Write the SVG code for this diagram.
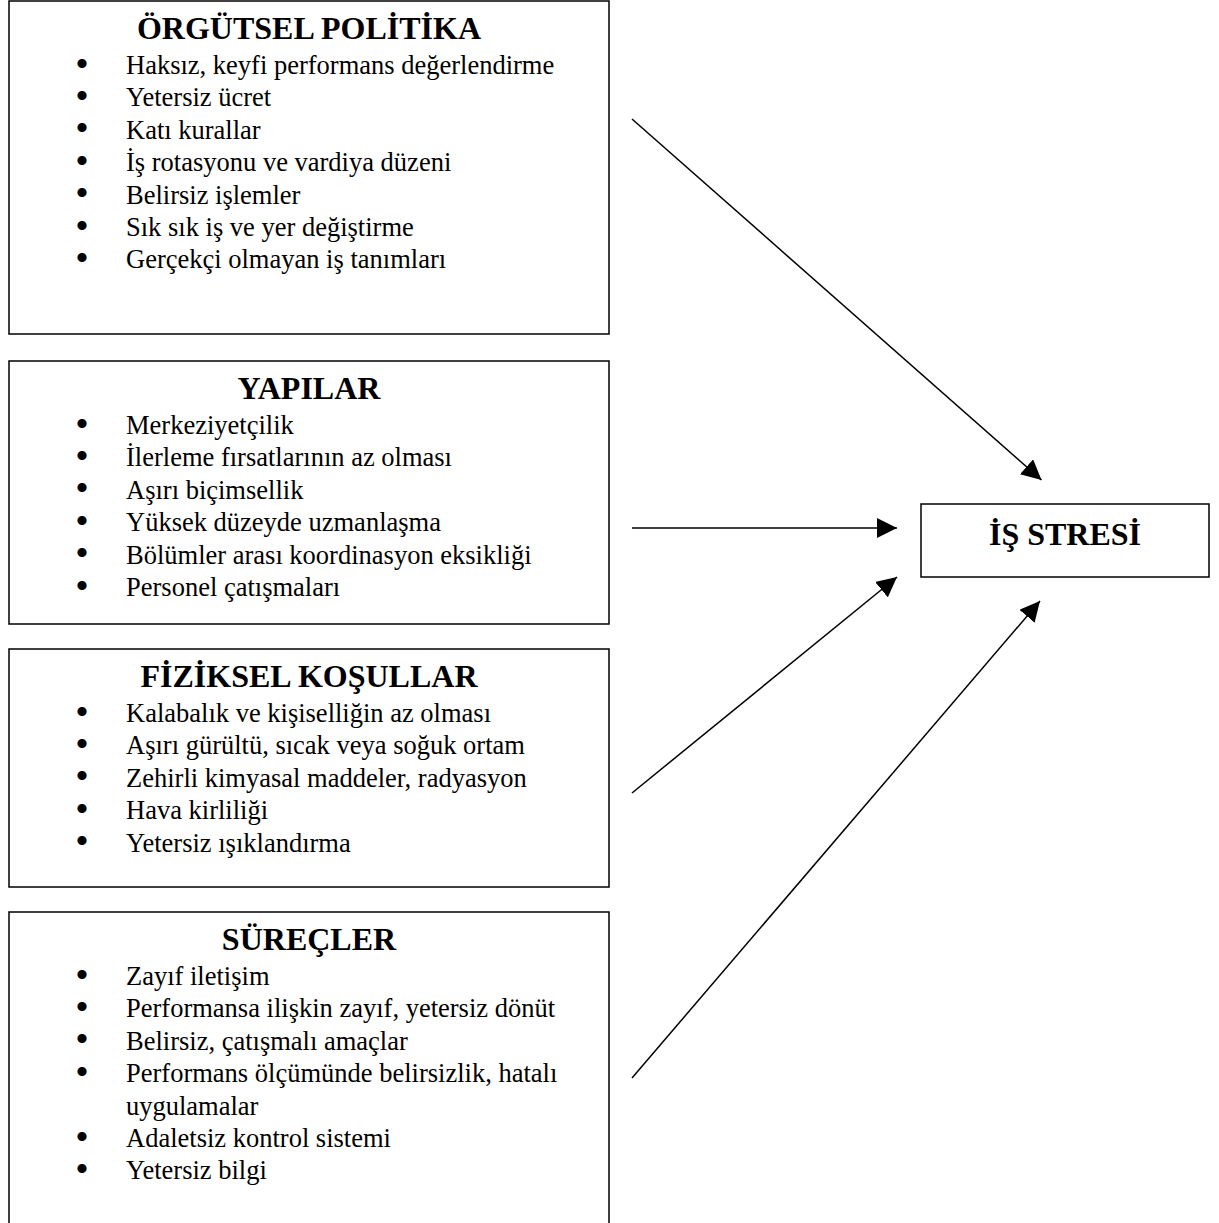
<svg xmlns="http://www.w3.org/2000/svg" width="1219" height="1223" viewBox="0 0 1219 1223">
<style>
.box{fill:#fff;stroke:#000;stroke-width:1.5}
.title{font-family:"Liberation Serif","Times New Roman",serif;font-weight:bold;font-size:32px;text-anchor:middle;fill:#000}
.item{font-family:"Liberation Serif","Times New Roman",serif;font-size:26.5px;fill:#000}
.bul{font-family:"Liberation Serif","Times New Roman",serif;font-size:30px;text-anchor:middle;fill:#000;stroke:#000;stroke-width:2}
.conn{stroke:#000;stroke-width:1.5;fill:none;marker-end:url(#ah)}
</style>
<defs>
<marker id="ah" viewBox="0 0 20 20" refX="20" refY="10" markerWidth="20" markerHeight="20" markerUnits="userSpaceOnUse" orient="auto">
<path d="M0,0 L20,10 L0,20 Z" fill="#000"/>
</marker>
</defs>
<rect width="1219" height="1223" fill="#fff"/>

<g id="orgutsel-politika">
<rect class="box" x="9" y="1" width="600" height="333"/>
<text class="title" x="309" y="39">ÖRGÜTSEL POLİTİKA</text>
<g class="bul"><text x="82" y="73.5">•</text><text x="82" y="105.9">•</text><text x="82" y="138.3">•</text><text x="82" y="170.7">•</text><text x="82" y="203.1">•</text><text x="82" y="235.5">•</text><text x="82" y="267.9">•</text></g>
<text class="item" x="126" y="74">Haksız, keyfi performans değerlendirme</text>
<text class="item" x="126" y="106.4">Yetersiz ücret</text>
<text class="item" x="126" y="138.8">Katı kurallar</text>
<text class="item" x="126" y="171.2">İş rotasyonu ve vardiya düzeni</text>
<text class="item" x="126" y="203.6">Belirsiz işlemler</text>
<text class="item" x="126" y="236">Sık sık iş ve yer değiştirme</text>
<text class="item" x="126" y="268.4">Gerçekçi olmayan iş tanımları</text>
</g>

<g id="yapilar">
<rect class="box" x="9" y="361" width="600" height="263"/>
<text class="title" x="309" y="399">YAPILAR</text>
<g class="bul"><text x="82" y="433.5">•</text><text x="82" y="465.9">•</text><text x="82" y="498.3">•</text><text x="82" y="530.7">•</text><text x="82" y="563.1">•</text><text x="82" y="595.5">•</text></g>
<text class="item" x="126" y="434">Merkeziyetçilik</text>
<text class="item" x="126" y="466.4">İlerleme fırsatlarının az olması</text>
<text class="item" x="126" y="498.8">Aşırı biçimsellik</text>
<text class="item" x="126" y="531.2">Yüksek düzeyde uzmanlaşma</text>
<text class="item" x="126" y="563.6">Bölümler arası koordinasyon eksikliği</text>
<text class="item" x="126" y="596">Personel çatışmaları</text>
</g>

<g id="fiziksel-kosullar">
<rect class="box" x="9" y="649" width="600" height="238"/>
<text class="title" x="309" y="687">FİZİKSEL KOŞULLAR</text>
<g class="bul"><text x="82" y="721.5">•</text><text x="82" y="753.9">•</text><text x="82" y="786.3">•</text><text x="82" y="818.7">•</text><text x="82" y="851.1">•</text></g>
<text class="item" x="126" y="722">Kalabalık ve kişiselliğin az olması</text>
<text class="item" x="126" y="754.4">Aşırı gürültü, sıcak veya soğuk ortam</text>
<text class="item" x="126" y="786.8">Zehirli kimyasal maddeler, radyasyon</text>
<text class="item" x="126" y="819.2">Hava kirliliği</text>
<text class="item" x="126" y="851.6">Yetersiz ışıklandırma</text>
</g>

<g id="surecler">
<rect class="box" x="9" y="912" width="600" height="330"/>
<text class="title" x="309" y="950">SÜREÇLER</text>
<g class="bul"><text x="82" y="984.5">•</text><text x="82" y="1016.9">•</text><text x="82" y="1049.3">•</text><text x="82" y="1081.7">•</text><text x="82" y="1146.5">•</text><text x="82" y="1178.9">•</text></g>
<text class="item" x="126" y="985">Zayıf iletişim</text>
<text class="item" x="126" y="1017.4">Performansa ilişkin zayıf, yetersiz dönüt</text>
<text class="item" x="126" y="1049.8">Belirsiz, çatışmalı amaçlar</text>
<text class="item" x="126" y="1082.2">Performans ölçümünde belirsizlik, hatalı</text>
<text class="item" x="126" y="1114.6">uygulamalar</text>
<text class="item" x="126" y="1147">Adaletsiz kontrol sistemi</text>
<text class="item" x="126" y="1179.4">Yetersiz bilgi</text>
</g>

<g id="is-stresi">
<rect class="box" x="921" y="504" width="288" height="73"/>
<text class="title" x="1065" y="545">İŞ STRESİ</text>
</g>

<g id="connectors">
<line class="conn" x1="632" y1="119" x2="1041.5" y2="480"/>
<line class="conn" x1="632" y1="528" x2="897" y2="528"/>
<line class="conn" x1="632" y1="793" x2="897" y2="577"/>
<line class="conn" x1="632" y1="1078" x2="1040" y2="601"/>
</g>
</svg>
